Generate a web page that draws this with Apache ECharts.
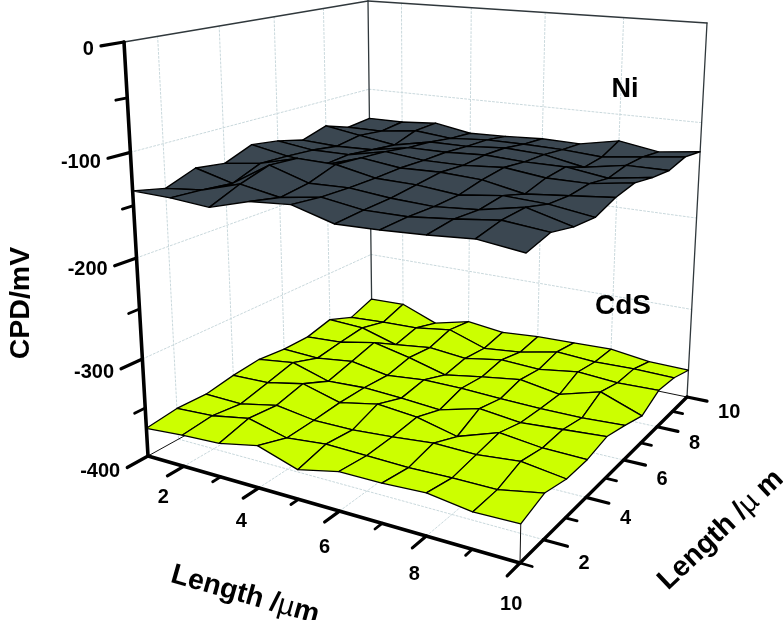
<!DOCTYPE html>
<html><head><meta charset="utf-8">
<style>html,body{margin:0;padding:0;background:#fff}#c{width:783px;height:620px}</style>
<script src="https://cdn.jsdelivr.net/npm/echarts@6/dist/echarts.min.js"></script></head>
<body><div id="c"></div><script>
const lengthTicks=[1,2,3,4,5,6,7,8,9,10];
const lengthLabels=[2,4,6,8,10];
const cpdTicks=[0,-50,-100,-150,-200,-250,-300,-350,-400];
const cpdLabels=[0,-100,-200,-300,-400];
// CPD in mV; outer index = length x (1..10), inner index = length y (1..10)
const cdsValues=[
[-371,-367,-368,-363,-360,-363,-363,-356,-367,-357],
[-368,-365,-369,-362,-355,-365,-361,-358,-365,-356],
[-366,-358,-361,-354,-367,-360,-353,-370,-364,-372],
[-358,-368,-367,-365,-365,-367,-362,-365,-358,-362],
[-371,-364,-367,-357,-367,-363,-373,-369,-372,-367],
[-362,-365,-364,-361,-370,-363,-366,-362,-368,-364],
[-362,-366,-360,-371,-359,-365,-360,-364,-359,-363],
[-360,-365,-361,-357,-364,-366,-367,-358,-362,-362],
[-366,-365,-357,-362,-361,-366,-355,-361,-361,-368],
[-365,-357,-363,-363,-358,-364,-371,-360,-362,-369]];
const niValues=[
[-136,-143,-132,-136,-125,-129,-136,-128,-137,-134],
[-137,-139,-142,-131,-132,-134,-138,-134,-137,-134],
[-140,-128,-119,-121,-136,-134,-137,-140,-132,-131],
[-129,-135,-131,-122,-124,-126,-130,-132,-136,-138],
[-126,-129,-130,-130,-129,-130,-130,-132,-133,-137],
[-137,-135,-134,-131,-128,-130,-128,-129,-133,-135],
[-136,-135,-136,-135,-130,-127,-130,-131,-134,-136],
[-134,-131,-133,-130,-138,-132,-130,-139,-137,-128],
[-131,-126,-125,-132,-134,-132,-136,-132,-132,-135],
[-136,-130,-136,-138,-130,-126,-130,-132,-127,-130]];
const floorQuad=[[148,456],[520,563],[687,397],[372,332]];
const topQuad=[[124,42],[529.5,79],[707,23],[368,1]];
const persp=1.09;
function quad(q){const [[x0,y0],[x1,y1],[x2,y2],[x3,y3]]=q;
 const dx1=x1-x2,dx2=x3-x2,sx=x0-x1+x2-x3,dy1=y1-y2,dy2=y3-y2,sy=y0-y1+y2-y3;
 const den=dx1*dy2-dx2*dy1,g=(sx*dy2-dx2*sy)/den,h=(dx1*sy-sx*dy1)/den;
 const a=x1-x0+g*x1,b=x3-x0+h*x3,d=y1-y0+g*y1,e=y3-y0+h*y3;
 return (u,v)=>{const w=g*u+h*v+1;return [(a*u+b*v+x0)/w,(d*u+e*v+y0)/w];};}
const H0=quad(floorQuad),H1=quad(topQuad);
function project(x,y,z){const u=(x-1)/9,v=(y-1)/9,w=-z/400,t=persp*w/(1+(persp-1)*w);
 const p=H1(u,v),q=H0(u,v);return [p[0]+(q[0]-p[0])*t,p[1]+(q[1]-p[1])*t];}
const INK='#000',GRID='#c9d8dc',NI='#3b4751',CDS='#ccff00';
const FONT='"Liberation Sans",Arial,sans-serif';
function mkSeries(data,render){return {type:'custom',coordinateSystem:'cartesian2d',data,renderItem:render,silent:true,clip:false,animation:false};}
function L(api,a,b,stroke,lw,dash){const p=api.coord(a),q=api.coord(b);
 return {type:'line',shape:{x1:p[0],y1:p[1],x2:q[0],y2:q[1]},style:{stroke,lineWidth:lw,lineDash:dash||null,lineCap:'round'}};}
function T(api,p,text,size,opt){const c=api.coord(p);opt=opt||{};
 return {type:'text',x:c[0],y:c[1],rotation:opt.rot||0,style:{text,font:'bold '+size+'px '+FONT,fill:'#000',textAlign:opt.align||'center',textVerticalAlign:'middle'}};}
function TM(api,p,text,size,rot){const c=api.coord(p);
 const a={fontSize:size,fontWeight:'bold',fontFamily:FONT,fill:'#000'},b={fontSize:size,fontWeight:'normal',fontFamily:FONT,fill:'#000'};
 return {type:'text',x:c[0],y:c[1],rotation:rot,style:{text,rich:{a,b},textAlign:'center',textVerticalAlign:'middle'}};}
const gridVals=[2,4,6,8];
const zGrid=[-100,-200,-300];
function gridLines(_,api){const ch=[];
 gridVals.forEach(g=>{
  ch.push(L(api,project(1,g,0),project(1,g,-400),GRID,1,[2,2]));
  ch.push(L(api,project(g,10,0),project(g,10,-400),GRID,1,[2,2]));
  ch.push(L(api,project(g,1,-400),project(g,10,-400),GRID,1,[2,2]));
  ch.push(L(api,project(1,g,-400),project(10,g,-400),GRID,1,[2,2]));
 });
 zGrid.forEach(z=>{
  ch.push(L(api,project(1,1,z),project(1,10,z),GRID,1,[2,2]));
  ch.push(L(api,project(1,10,z),project(10,10,z),GRID,1,[2,2]));
 });
 const d='#30383c';
 ch.push(L(api,project(1,1,0),project(1,10,0),d,1.3));
 ch.push(L(api,project(1,10,0),project(10,10,0),d,1.3));
 ch.push(L(api,project(10,10,0),project(10,10,-400),d,1.3));
 ch.push(L(api,project(1,10,0),project(1,10,-400),d,1.3));
 ch.push(L(api,project(1,1,-400),project(1,10,-400),'#111',1));
 ch.push(L(api,project(1,10,-400),project(10,10,-400),'#111',1));
 return {type:'group',children:ch};}
function axes(_,api){const ch=[];
 ch.push(L(api,project(1,1,0),project(1,1,-400),INK,3.6));
 ch.push(L(api,project(1,1,-400),project(10,1,-400),INK,3.6));
 ch.push(L(api,project(10,1,-400),project(10,10,-400),INK,3.3));
 cpdTicks.forEach(z=>{const maj=cpdLabels.includes(z),e=project(1,1-(maj?0.65:0.33),z);
  ch.push(L(api,project(1,1,z),e,INK,maj?3.2:2.8));
  if(maj)ch.push(T(api,[e[0]-7,e[1]+4],String(z),20,{align:'right'}));});
 lengthTicks.forEach(x=>{if(x===1)return;const maj=lengthLabels.includes(x),e=project(x,1-(maj?0.52:0.26),-400);
  ch.push(L(api,project(x,1,-400),e,INK,maj?3.2:2.8));
  if(maj)ch.push(T(api,[e[0]-4+(x-2),e[1]+22+(x-2)*0.8],String(x),20));});
 lengthTicks.forEach(y=>{const maj=lengthLabels.includes(y),e=project(10+(maj?0.5:0.25),y,-400);
  ch.push(L(api,project(10,y,-400),e,INK,maj?3.2:2.8));
  if(maj)ch.push(T(api,[e[0]+11,e[1]+17-(y-2)*0.75],String(y),20,{align:'left'}));});
 ch.push(L(api,project(10,1,-400),project(10,1,cdsValues[9][0]),'#111',1));
 ch.push(T(api,[21,303],'CPD/mV',28.5,{rot:Math.PI/2}));
 ch.push(T(api,[625,90],'Ni',27));
 ch.push(T(api,[623,306],'CdS',28));
 ch.push(TM(api,[245,595],'{a|Length /}{b|µ}{a|m}',28.5,-15.8*Math.PI/180));
 ch.push(TM(api,[721,530],'{a|Length /}{b|µ }{a|m}',28.5,43.4*Math.PI/180));
 return {type:'group',children:ch};}
function cellRender(vals,fill,lw){return (params,api)=>{const i=api.value(0),j=api.value(1);
 const pts=[[i,j],[i+1,j],[i+1,j+1],[i,j+1]].map(([a,b])=>api.coord(project(a+1,b+1,vals[a][b])));
 return {type:'polygon',shape:{points:pts},style:{fill,stroke:'#000',lineWidth:lw,lineJoin:'round'}};};}
const cells=[];for(let j=8;j>=0;j--)for(let i=0;i<9;i++)cells.push([i,j]);
echarts.init(document.getElementById('c'),null,{renderer:'canvas'}).setOption({animation:false,
 grid:{left:0,right:0,top:0,bottom:0},
 xAxis:{type:'value',min:0,max:783,show:false},
 yAxis:{type:'value',min:0,max:620,inverse:true,show:false},
 series:[mkSeries([[0]],gridLines),mkSeries(cells,cellRender(cdsValues,CDS,1.3)),mkSeries(cells,cellRender(niValues,NI,1.4)),mkSeries([[0]],axes)]});
</script></body></html>
